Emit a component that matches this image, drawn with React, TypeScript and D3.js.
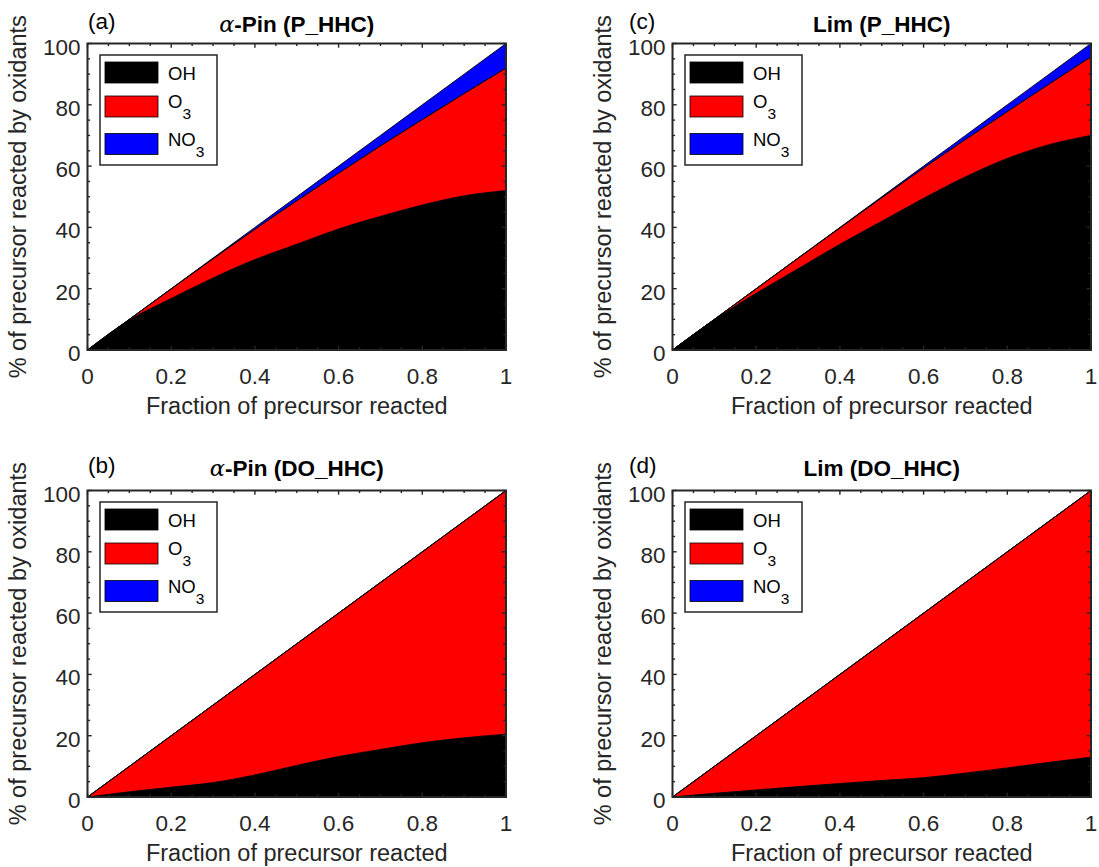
import React from 'react';
import * as d3 from 'd3';

// ---------- data ----------
const fractionReacted = [0, 0.1, 0.2, 0.3, 0.4, 0.5, 0.6, 0.7, 0.8, 0.9, 1.0];

// (a) alpha-Pin, P_HHC  (% of precursor reacted by each oxidant)
const pinP_OH = [0, 9.8, 16.8, 23.5, 29.5, 34.5, 39.5, 43.6, 47.3, 50.3, 52];
const pinP_O3 = [0, 0.2, 3.15, 6.3, 9.9, 14.2, 18.2, 23.0, 27.9, 33.4, 40];
const pinP_NO3 = [0, 0, 0.05, 0.2, 0.6, 1.3, 2.3, 3.4, 4.8, 6.3, 8];

// (b) alpha-Pin, DO_HHC
const pinDO_OH = [0, 1.7, 3.2, 4.7, 7.2, 10.3, 13.2, 15.5, 17.7, 19.3, 20.5];
const pinDO_O3 = [0, 8.3, 16.8, 25.3, 32.8, 39.7, 46.8, 54.5, 62.3, 70.7, 79.5];
const pinDO_NO3 = [0, 0, 0, 0, 0, 0, 0, 0, 0, 0, 0];

// (c) Lim, P_HHC
const limP_OH = [0, 9.9, 18.5, 26.5, 34.5, 42, 49.5, 56.5, 62.5, 67, 70];
const limP_O3 = [0, 0.1, 1.5, 3.45, 5.35, 7.7, 9.9, 12.2, 15.3, 19.8, 25.7];
const limP_NO3 = [0, 0, 0, 0.05, 0.15, 0.3, 0.6, 1.3, 2.2, 3.2, 4.3];

// (d) Lim, DO_HHC
const limDO_OH = [0, 1.2, 2.3, 3.4, 4.4, 5.4, 6.3, 7.8, 9.5, 11.3, 13];
const limDO_O3 = [0, 8.8, 17.7, 26.6, 35.6, 44.6, 53.7, 62.2, 70.5, 78.7, 87];
const limDO_NO3 = [0, 0, 0, 0, 0, 0, 0, 0, 0, 0, 0];

const oxidants = ['OH', 'O3', 'NO3'];
const oxidantColors = ['#000000', '#ff0000', '#0000ff'];
const xTickLabels = ['0', '0.2', '0.4', '0.6', '0.8', '1'];
const yTickLabels = ['0', '20', '40', '60', '80', '100'];

// ---------- layout ----------
const W = 1099;
const H = 867;
const PW = 418.5;
const PH = 306.5;
const FONT = '"Liberation Sans", Arial, Helvetica, sans-serif';
const INK = '#262626';

const panels = [
  { tag: '(a)', species: 'Pin', scen: 'P_HHC', oh: pinP_OH, o3: pinP_O3, no3: pinP_NO3,
    left: 87.5, top: 43.5, tagX: 88, tagY: 28.5, titleY: 31.5 },
  { tag: '(b)', species: 'Pin', scen: 'DO_HHC', oh: pinDO_OH, o3: pinDO_O3, no3: pinDO_NO3,
    left: 87.5, top: 490.5, tagX: 88, tagY: 472.5, titleY: 476 },
  { tag: '(c)', species: 'Lim', scen: 'P_HHC', oh: limP_OH, o3: limP_O3, no3: limP_NO3,
    left: 672.5, top: 43.5, tagX: 629, tagY: 28.5, titleY: 31.5 },
  { tag: '(d)', species: 'Lim', scen: 'DO_HHC', oh: limDO_OH, o3: limDO_O3, no3: limDO_NO3,
    left: 672.5, top: 490.5, tagX: 629, tagY: 472.5, titleY: 476 },
];

function Panel({ p, idx }: { p: any; idx: number }) {
  const x = d3.scaleLinear().domain([0, 1]).range([p.left, p.left + PW]);
  const y = d3.scaleLinear().domain([0, 100]).range([p.top + PH, p.top]);
  const rows = fractionReacted.map((f, i) => ({ f, OH: p.oh[i], O3: p.o3[i], NO3: p.no3[i] }));
  const series = d3.stack<any>().keys(oxidants)(rows);
  const area = d3
    .area<any>()
    .x((d) => x(d.data.f))
    .y0((d) => y(d[0]))
    .y1((d) => y(d[1]))
    .curve(d3.curveMonotoneX);

  const xMinor = d3.range(0, 21).map((i) => i * 0.05);
  const xMajor = d3.range(0, 6).map((i) => i * 0.2);
  const yMinor = d3.range(0, 21).map((i) => i * 5);
  const yMajor = d3.range(0, 6).map((i) => i * 20);
  const bottom = p.top + PH;
  const right = p.left + PW;
  const clipId = `clip-${idx}`;
  const cx = p.left + PW / 2;

  const lx = p.left + 12.5;
  const ly = p.top + 11.5;
  const rowCenters = [17.5, 51.5, 89];

  return (
    <g>
      <defs>
        <clipPath id={clipId}>
          <rect x={p.left} y={p.top} width={PW} height={PH} />
        </clipPath>
      </defs>
      <g clipPath={`url(#${clipId})`}>
        {series.map((s, i) => (
          <path key={i} d={area(s) || ''} fill={oxidantColors[i]} stroke="#000" strokeWidth={0.9} strokeLinejoin="round" />
        ))}
      </g>
      {/* ticks */}
      {xMinor.map((t, i) => {
        const major = xMajor.some((m) => Math.abs(m - t) < 1e-9);
        const len = major ? 4.2 : 2.6;
        return (
          <g key={'xt' + i}>
            <line x1={x(t)} x2={x(t)} y1={bottom} y2={bottom - len} stroke={INK} strokeWidth={1.4} />
            <line x1={x(t)} x2={x(t)} y1={p.top} y2={p.top + len} stroke={INK} strokeWidth={1.4} />
          </g>
        );
      })}
      {yMinor.map((t, i) => {
        const major = t % 20 === 0;
        const len = major ? 4.2 : 2.6;
        return (
          <g key={'yt' + i}>
            <line x1={p.left} x2={p.left + len} y1={y(t)} y2={y(t)} stroke={INK} strokeWidth={1.4} />
            <line x1={right} x2={right - len} y1={y(t)} y2={y(t)} stroke={INK} strokeWidth={1.4} />
          </g>
        );
      })}
      <rect x={p.left} y={p.top} width={PW} height={PH} fill="none" stroke={INK} strokeWidth={2} />
      {/* tick labels */}
      {xMajor.map((t, i) => (
        <text key={'xl' + i} x={x(t)} y={bottom + 34} textAnchor="middle" fontFamily={FONT} fontSize={22.5} fill={INK}>
          {xTickLabels[i]}
        </text>
      ))}
      {yMajor.map((t, i) => (
        <text key={'yl' + i} x={p.left - 7} y={y(t) + 11} textAnchor="end" fontFamily={FONT} fontSize={22.5} fill={INK}>
          {yTickLabels[i]}
        </text>
      ))}
      {/* axis labels */}
      <text x={cx} y={bottom + 64} textAnchor="middle" fontFamily={FONT} fontSize={23.5} fill={INK}>
        Fraction of precursor reacted
      </text>
      <text
        transform={`translate(${p.left - 62},${p.top + PH / 2}) rotate(-90)`}
        textAnchor="middle"
        fontFamily={FONT}
        fontSize={23.5}
        fill={INK}
      >
        % of precursor reacted by oxidants
      </text>
      {/* title */}
      <text x={p.tagX} y={p.tagY} fontFamily={FONT} fontSize={22.5} fill="#000">
        {p.tag}
      </text>
      <text x={cx} y={p.titleY} textAnchor="middle" fontFamily={FONT} fontSize={22.5} fontWeight="bold" fill="#000">
        {p.species === 'Pin' ? (
          <>
            <tspan fontFamily='"DejaVu Serif", "Liberation Serif", serif' fontStyle="italic" fontWeight="normal">
              α
            </tspan>
            <tspan>-Pin ({p.scen})</tspan>
          </>
        ) : (
          <tspan>Lim ({p.scen})</tspan>
        )}
      </text>
      {/* legend */}
      <rect x={lx} y={ly} width={117} height={110} fill="#fff" stroke={INK} strokeWidth={1.5} />
      {oxidants.map((k, i) => {
        const c = ly + rowCenters[i];
        return (
          <g key={'lg' + i}>
            <rect x={lx + 5} y={c - 10.5} width={53} height={21} fill={oxidantColors[i]} stroke="#000" strokeWidth={0.8} />
            {k === 'OH' ? (
              <text x={lx + 68} y={c + 7.5} fontFamily={FONT} fontSize={18.5} fill="#000">
                OH
              </text>
            ) : (
              <text x={lx + 68} y={c + 1.5} fontFamily={FONT} fontSize={18.5} fill="#000">
                {k === 'O3' ? 'O' : 'NO'}
                <tspan dy={11} fontSize={15.5}>
                  3
                </tspan>
              </text>
            )}
          </g>
        );
      })}
    </g>
  );
}

export default function App() {
  return (
    <svg
      width={W}
      height={H}
      viewBox={`0 0 ${W} ${H}`}
      style={{ position: 'absolute', left: 0, top: 0, background: '#fff' }}
    >
      <rect x={0} y={0} width={W} height={H} fill="#fff" />
      {panels.map((p, i) => (
        <Panel key={i} p={p} idx={i} />
      ))}
    </svg>
  );
}
